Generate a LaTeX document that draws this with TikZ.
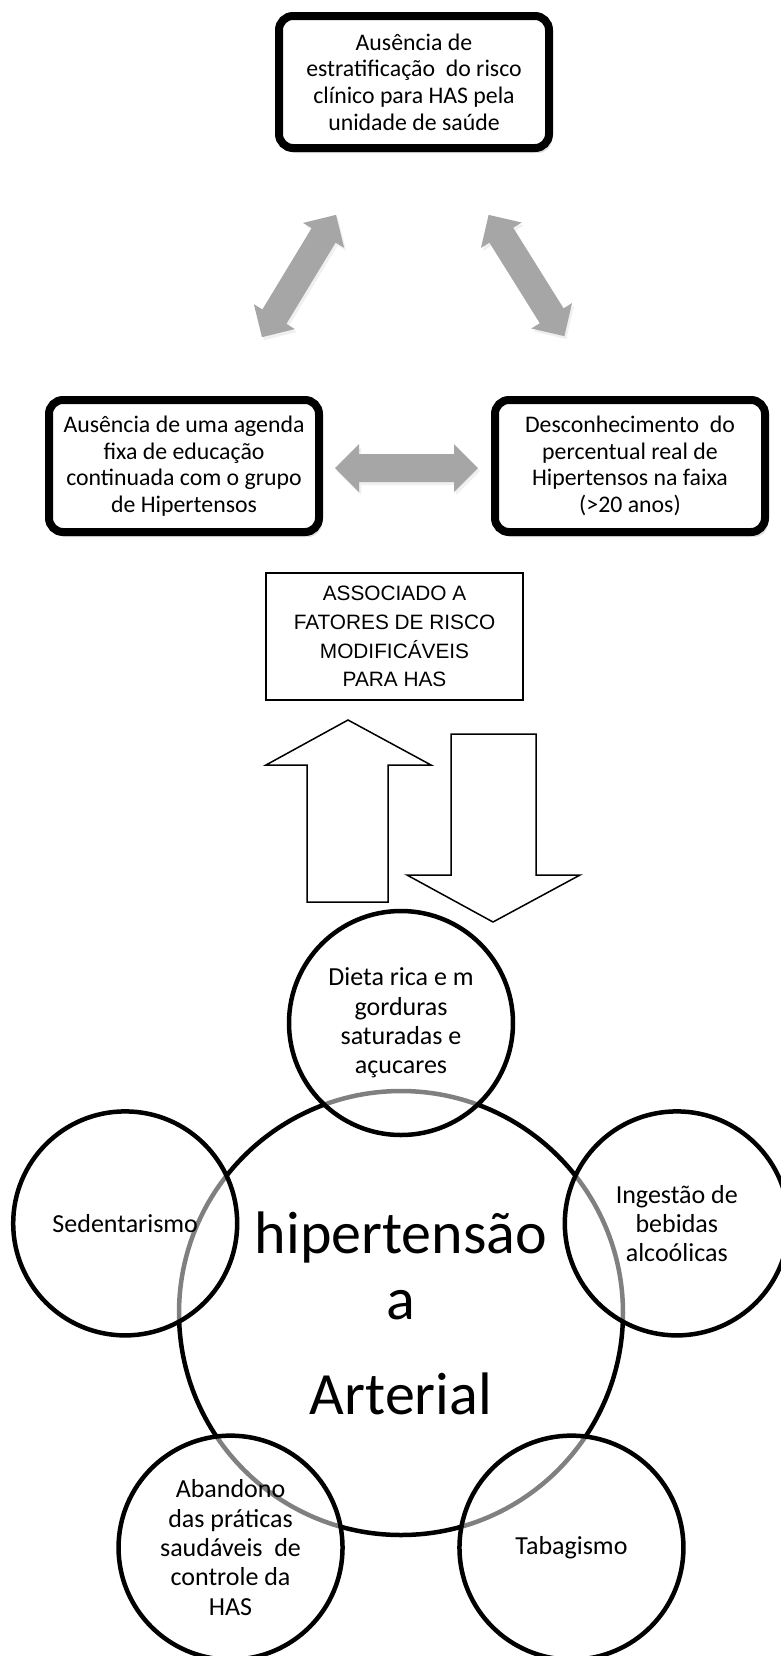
\documentclass[tikz,border=0pt]{standalone}
\usepackage{fontspec}
\setmainfont{Carlito}
\newfontfamily\arialfont{Liberation Sans}
\usetikzlibrary{shadows,calc}

\definecolor{arrowgray}{RGB}{166,166,166}

\tikzset{
	problem/.style={draw, line width=4pt, rounded corners=7pt, fill=white,
		align=center, minimum width=135pt, minimum height=66pt, inner sep=0pt,
		font=\fontsize{11.9}{13.3}\selectfont,
		drop shadow={opacity=0.25, shadow xshift=1.5pt, shadow yshift=-2.5pt}},
	factor/.style={circle, draw, line width=2.25pt, fill=white, fill opacity=0.5,
		text opacity=1, minimum size=112pt, inner sep=0pt, align=center,
		font=\fontsize{13}{14.65}\selectfont},
	blockarrow/.style={draw, line width=0.75pt, fill=white, line join=miter},
	twoway/.pic={
		\fill[arrowgray, drop shadow={opacity=0.12, shadow xshift=1pt, shadow yshift=-1.5pt}]
			(-71.5,0) -- (-47.5,24) -- (-47.5,14) -- (47.5,14) -- (47.5,24) -- (71.5,0)
			-- (47.5,-24) -- (47.5,-14) -- (-47.5,-14) -- (-47.5,-24) -- cycle;
	}
}

\begin{document}
\begin{tikzpicture}[x=0.5pt, y=0.5pt]
	\useasboundingbox (0,0) rectangle (781,-1656);
	\clip (0,0) rectangle (781,-1656);
	
	%problem boxes
	\node[problem] (estratif) at (414,-82) {Ausência de\\estratificação~ do risco\\clínico para HAS pela\\unidade de saúde};
	\node[problem] (agenda) at (184,-466) {Ausência de uma agenda\\fixa de educação\\continuada com o grupo\\de Hipertensos};
	\node[problem] (desconhec) at (630,-466) {Desconhecimento~ do\\percentual real de\\Hipertensos na faixa\\(>20 anos)};
	
	%gray double arrows
	\pic[rotate=58.8] at (299,-276) {twoway};
	\pic[rotate=-58] at (526.5,-275.5) {twoway};
	\pic at (406.5,-468) {twoway};
	
	\node[draw, line width=0.75pt, minimum width=128.5pt, minimum height=63.5pt, align=center,
		font=\arialfont\fontsize{10.4}{14.4}\selectfont] (assoc) at (394.5,-636.5)
		{ASSOCIADO A\\FATORES DE RISCO\\MODIFICÁVEIS\\PARA HAS};
	
	%up and down arrows
	\draw[blockarrow] (348,-720) -- (431,-765) -- (388,-765) -- (388,-902) -- (307,-902) -- (307,-765) -- (266,-765) -- cycle;
	\draw[blockarrow] (451,-734) -- (536,-734) -- (536,-875) -- (580,-875) -- (493,-922) -- (407,-875) -- (451,-875) -- cycle;
	
	%central circle
	\node[circle, draw, line width=2.25pt, minimum size=222pt, inner sep=0pt, align=center,
		font=\fontsize{30}{33}\selectfont] (has) at (401,-1313)
		{hipertensão\\a\\[14.5pt]Arterial};
	
	%risk factors
	\node[factor] (dieta) at ($(has)+(90:290)$) {Dieta rica e m\\gorduras\\saturadas e\\açucares};
	\node[factor] (sedent) at ($(has)+(162:290)$) {Sedentarismo};
	\node[factor] (alcool) at ($(has)+(18:290)$) {Ingestão de\\bebidas\\alcoólicas};
	\node[factor] (abandono) at ($(has)+(234:290)$) {Abandono\\das práticas\\saudáveis~ de\\controle da\\HAS};
	\node[factor] (tabaco) at ($(has)+(306:290)$) {Tabagismo};
\end{tikzpicture}
\end{document}
